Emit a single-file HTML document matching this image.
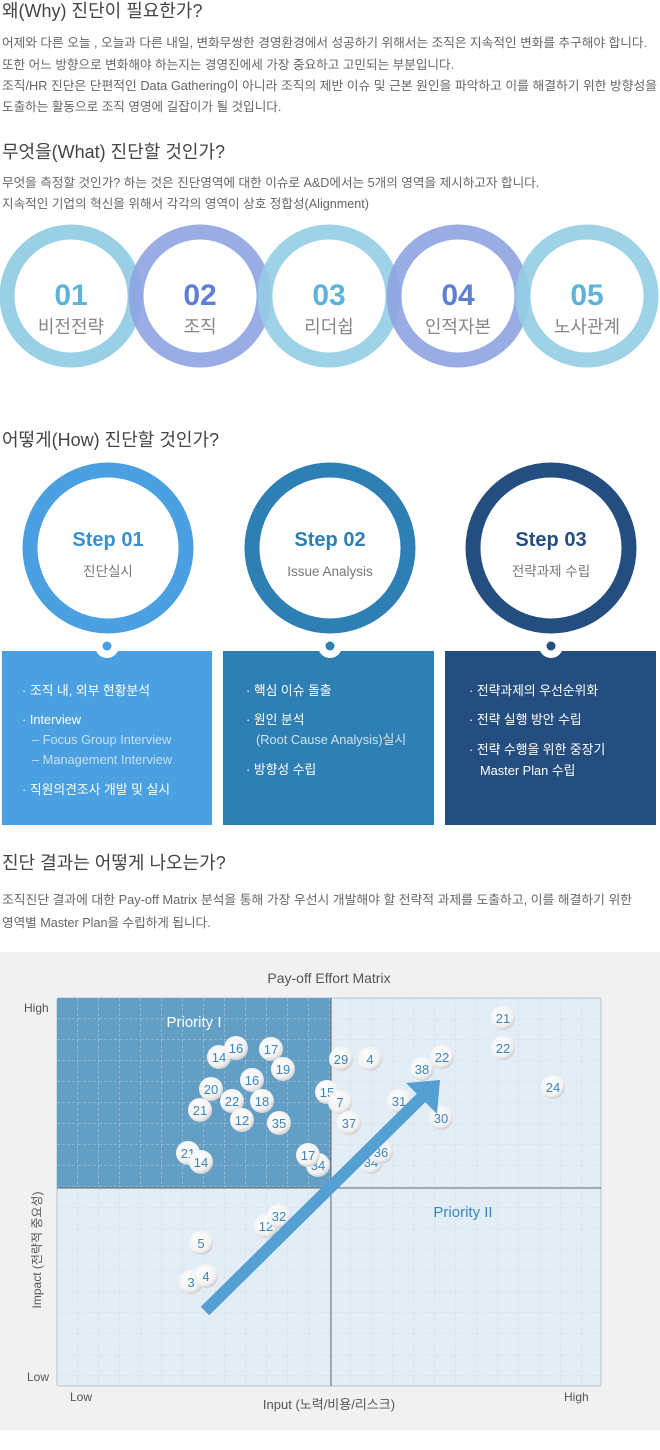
<!DOCTYPE html>
<html><head><meta charset="utf-8"><style>
body{margin:0;width:660px;height:1450px;background:#fff;overflow:hidden}
svg{display:block}
text{font-family:"Liberation Sans","Noto Sans CJK KR",sans-serif}
</style></head><body>
<svg width="660" height="1450" viewBox="0 0 660 1450" xmlns="http://www.w3.org/2000/svg">
<defs>
<pattern id="grid" width="21" height="21" patternUnits="userSpaceOnUse" x="57" y="998">
<path d="M21 0V21M0 21H21" fill="none" stroke="#c9d5e0" stroke-width="0.8" stroke-dasharray="3,2"/>
</pattern>
<radialGradient id="bub" cx="0.4" cy="0.35" r="0.7"><stop offset="0" stop-color="#fff"/><stop offset="0.7" stop-color="#f2f2f2"/><stop offset="1" stop-color="#c8c8c8"/></radialGradient>
</defs>
<g fill="#444" font-size="18">
<text x="2" y="17">왜(Why) 진단이 필요한가?</text>
<text x="2" y="158">무엇을(What) 진단할 것인가?</text>
<text x="2" y="446">어떻게(How) 진단할 것인가?</text>
<text x="2" y="869">진단 결과는 어떻게 나오는가?</text>
</g>
<g fill="#666" font-size="12.6">
<text x="2" y="47" textLength="645" lengthAdjust="spacingAndGlyphs">어제와 다른 오늘 , 오늘과 다른 내일, 변화무쌍한 경영환경에서 성공하기 위해서는 조직은 지속적인 변화를 추구해야 합니다.</text>
<text x="2" y="69">또한 어느 방향으로 변화해야 하는지는 경영진에세 가장 중요하고 고민되는 부분입니다.</text>
<text x="2" y="90" textLength="655" lengthAdjust="spacingAndGlyphs">조직/HR 진단은 단편적인 Data Gathering이 아니라 조직의 제반 이슈 및 근본 원인을 파악하고 이를 해결하기 위한 방향성을</text>
<text x="2" y="111">도출하는 활동으로 조직 영영에 길잡이가 될 것입니다.</text>
<text x="2" y="187">무엇을 측정할 것인가? 하는 것은 진단영역에 대한 이슈로 A&amp;D에서는 5개의 영역을 제시하고자 합니다.</text>
<text x="2" y="208">지속적인 기업의 혁신을 위해서 각각의 영역이 상호 정합성(Alignment)</text>
<text x="2" y="904" textLength="630" lengthAdjust="spacingAndGlyphs">조직진단 결과에 대한 Pay-off Matrix 분석을 통해 가장 우선시 개발해야 할 전략적 과제를 도출하고, 이를 해결하기 위한</text>
<text x="2" y="927">영역별 Master Plan을 수립하게 됩니다.</text>
</g>
<g fill="none" stroke-width="15">
<circle cx="71" cy="296" r="64" stroke="#93cde4" opacity="0.95"/>
<circle cx="200" cy="296" r="64" stroke="#8ea3e0" opacity="0.9"/>
<circle cx="329" cy="296" r="64" stroke="#93cde4" opacity="0.9"/>
<circle cx="458" cy="296" r="64" stroke="#8ea3e0" opacity="0.9"/>
<circle cx="587" cy="296" r="64" stroke="#93cde4" opacity="0.9"/>
</g>
<g font-size="30" font-weight="bold" text-anchor="middle">
<text x="71" y="305" fill="#5db3d8">01</text>
<text x="200" y="305" fill="#5e7fd4">02</text>
<text x="329" y="305" fill="#5db3d8">03</text>
<text x="458" y="305" fill="#5e7fd4">04</text>
<text x="587" y="305" fill="#5db3d8">05</text>
</g>
<g font-size="18" fill="#888" text-anchor="middle">
<text x="71" y="333">비전전략</text><text x="200" y="333">조직</text><text x="329" y="333">리더쉽</text><text x="458" y="333">인적자본</text><text x="587" y="333">노사관계</text>
</g>
<g fill="none" stroke-width="15">
<circle cx="108" cy="548" r="78" stroke="#4aa0e0"/>
<circle cx="330" cy="548" r="78" stroke="#2e7fb3"/>
<circle cx="551" cy="548" r="78" stroke="#244e80"/>
</g>
<g font-size="20" font-weight="bold" text-anchor="middle">
<text x="108" y="546" fill="#3a8fd0">Step 01</text>
<text x="330" y="546" fill="#2e7fb3">Step 02</text>
<text x="551" y="546" fill="#244e80">Step 03</text>
</g>
<g font-size="13.5" fill="#777" text-anchor="middle">
<text x="108" y="576">진단실시</text><text x="330" y="576">Issue Analysis</text><text x="551" y="576">전략과제 수립</text>
</g>
<rect x="2" y="651" width="210" height="174" fill="#4aa0e0"/>
<rect x="223" y="651" width="211" height="174" fill="#2e7fb3"/>
<rect x="445" y="651" width="211" height="174" fill="#244e80"/>
<g fill="#fff"><circle cx="107" cy="646" r="12"/><circle cx="330" cy="646" r="12"/><circle cx="551" cy="646" r="12"/></g>
<circle cx="107" cy="646" r="4.5" fill="#4aa0e0"/><circle cx="330" cy="646" r="4.5" fill="#2e7fb3"/><circle cx="551" cy="646" r="4.5" fill="#244e80"/>
<g font-size="12.8" fill="#fff">
<text x="22" y="695">· 조직 내, 외부 현황분석</text>
<text x="22" y="724">· Interview</text>
<text x="32" y="744" fill="#c8dff2">– Focus Group Interview</text>
<text x="32" y="764" fill="#c8dff2">– Management Interview</text>
<text x="22" y="794">· 직원의견조사 개발 및 실시</text>
<text x="246" y="695">· 핵심 이슈 돌출</text>
<text x="246" y="724">· 원인 분석</text>
<text x="256" y="744" fill="#cfe1ef">(Root Cause Analysis)실시</text>
<text x="246" y="774">· 방향성 수립</text>
<text x="469" y="695">· 전략과제의 우선순위화</text>
<text x="469" y="724">· 전략 실행 방안 수립</text>
<text x="469" y="754">· 전략 수행을 위한 중장기</text>
<text x="480" y="775">Master Plan 수립</text>
</g>
<rect x="0" y="952" width="660" height="478" fill="#f1f1f1"/>
<text x="329" y="983" font-size="14" fill="#555" text-anchor="middle">Pay-off Effort Matrix</text>
<rect x="57" y="998" width="544" height="388" fill="#e3edf6" stroke="#b8c4ce" rx="2"/>
<rect x="57" y="998" width="274" height="190" fill="#639ec4"/>
<rect x="57" y="998" width="544" height="388" fill="url(#grid)"/>
<line x1="331" y1="998" x2="331" y2="1386" stroke="#666"/>
<line x1="57" y1="1188" x2="601" y2="1188" stroke="#666"/>
<text x="194" y="1027" font-size="15" fill="#fff" text-anchor="middle">Priority I</text>
<text x="463" y="1217" font-size="15" fill="#3a86c2" text-anchor="middle">Priority II</text>
<g font-size="12" fill="#555">
<text x="24" y="1012">High</text><text x="27" y="1381">Low</text>
<text x="70" y="1401">Low</text><text x="564" y="1401">High</text>
<text x="329" y="1409" text-anchor="middle" font-size="13">Input (노력/비용/리스크)</text>
<text transform="translate(41,1250) rotate(-90)" text-anchor="middle">Impact (전략적 중요성)</text>
</g>
<g fill="#3a86c2" font-size="13" text-anchor="middle">
<circle cx="219" cy="1057" r="12" fill="url(#bub)"/><text x="219" y="1062">14</text>
<circle cx="236" cy="1048" r="12" fill="url(#bub)"/><text x="236" y="1053">16</text>
<circle cx="271" cy="1049" r="12" fill="url(#bub)"/><text x="271" y="1054">17</text>
<circle cx="283" cy="1069" r="12" fill="url(#bub)"/><text x="283" y="1074">19</text>
<circle cx="341" cy="1059" r="12" fill="url(#bub)"/><text x="341" y="1064">29</text>
<circle cx="370" cy="1059" r="12" fill="url(#bub)"/><text x="370" y="1064">4</text>
<circle cx="422" cy="1069" r="12" fill="url(#bub)"/><text x="422" y="1074">38</text>
<circle cx="442" cy="1057" r="12" fill="url(#bub)"/><text x="442" y="1062">22</text>
<circle cx="503" cy="1018" r="12" fill="url(#bub)"/><text x="503" y="1023">21</text>
<circle cx="503" cy="1048" r="12" fill="url(#bub)"/><text x="503" y="1053">22</text>
<circle cx="252" cy="1080" r="12" fill="url(#bub)"/><text x="252" y="1085">16</text>
<circle cx="211" cy="1089" r="12" fill="url(#bub)"/><text x="211" y="1094">20</text>
<circle cx="553" cy="1087" r="12" fill="url(#bub)"/><text x="553" y="1092">24</text>
<circle cx="327" cy="1092" r="12" fill="url(#bub)"/><text x="327" y="1097">15</text>
<circle cx="340" cy="1102" r="12" fill="url(#bub)"/><text x="340" y="1107">7</text>
<circle cx="399" cy="1101" r="12" fill="url(#bub)"/><text x="399" y="1106">31</text>
<circle cx="200" cy="1110" r="12" fill="url(#bub)"/><text x="200" y="1115">21</text>
<circle cx="232" cy="1101" r="12" fill="url(#bub)"/><text x="232" y="1106">22</text>
<circle cx="262" cy="1101" r="12" fill="url(#bub)"/><text x="262" y="1106">18</text>
<circle cx="242" cy="1120" r="12" fill="url(#bub)"/><text x="242" y="1125">12</text>
<circle cx="279" cy="1123" r="12" fill="url(#bub)"/><text x="279" y="1128">35</text>
<circle cx="349" cy="1123" r="12" fill="url(#bub)"/><text x="349" y="1128">37</text>
<circle cx="441" cy="1118" r="12" fill="url(#bub)"/><text x="441" y="1123">30</text>
<circle cx="188" cy="1153" r="12" fill="url(#bub)"/><text x="188" y="1158">21</text>
<circle cx="201" cy="1162" r="12" fill="url(#bub)"/><text x="201" y="1167">14</text>
<circle cx="318" cy="1165" r="12" fill="url(#bub)"/><text x="318" y="1170">34</text>
<circle cx="308" cy="1155" r="12" fill="url(#bub)"/><text x="308" y="1160">17</text>
<circle cx="371" cy="1162" r="12" fill="url(#bub)"/><text x="371" y="1167">34</text>
<circle cx="381" cy="1152" r="12" fill="url(#bub)"/><text x="381" y="1157">36</text>
<circle cx="266" cy="1226" r="12" fill="url(#bub)"/><text x="266" y="1231">12</text>
<circle cx="279" cy="1216" r="12" fill="url(#bub)"/><text x="279" y="1221">32</text>
<circle cx="201" cy="1243" r="12" fill="url(#bub)"/><text x="201" y="1248">5</text>
<circle cx="191" cy="1282" r="12" fill="url(#bub)"/><text x="191" y="1287">3</text>
<circle cx="206" cy="1276" r="12" fill="url(#bub)"/><text x="206" y="1281">4</text>
</g>
<line x1="205" y1="1311" x2="422" y2="1097" stroke="#55a0d2" stroke-width="12"/>
<polygon points="440,1080 437,1114 406,1083" fill="#55a0d2"/>
</svg>
</body></html>
